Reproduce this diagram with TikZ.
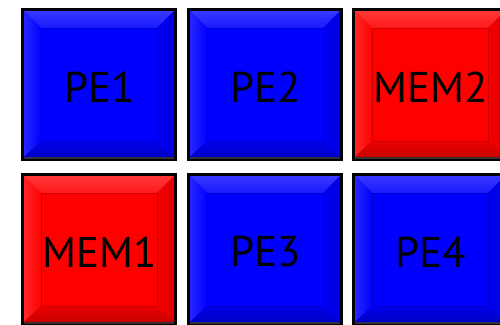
\documentclass[tikz,border=0pt]{standalone}
\usepackage{fontspec}
\setmainfont{PT Sans}
\begin{document}
\begin{tikzpicture}[x=1pt,y=-1pt]
\useasboundingbox (0,0) rectangle (500,324);
\clip (0,0) rectangle (500,324);
\fill[white] (0,0) rectangle (500,324);
\tikzset{lbl/.style={font=\fontsize{43}{43}\selectfont, text=black, inner sep=0pt}}
\newcommand\bevbox[5]{%
  % #1 name, #2 x, #3 y, #4 colour, #5 text
  \begin{scope}[shift={(#2,#3)}]
    \fill[black] (0,0) rectangle (156,153);
    \fill[black!80] (3,149) rectangle (153,151);
    \fill[#4] (3,3) rectangle (153,149);
    \shade[top color=#4!78!white, bottom color=#4!90!white] (3,3) -- (153,3) -- (136,20) -- (20,20) -- cycle;
    \shade[left color=#4!85!white, right color=#4] (3,3) -- (20,20) -- (20,133) -- (3,149) -- cycle;
    \shade[left color=#4!95!black, right color=#4!88!black] (153,3) -- (136,20) -- (136,133) -- (153,149) -- cycle;
    \shade[top color=#4!92!black, bottom color=#4!78!black] (3,149) -- (20,133) -- (136,133) -- (153,149) -- cycle;
    \filldraw[fill=#4, draw=#4!80!black, line width=0.8] (20,20) rectangle (136,133);
    \node[lbl] (#1) at (79,79) {#5};
  \end{scope}}
\bevbox{pe1}{21}{8}{blue}{PE1}
\bevbox{pe2}{187}{8}{blue}{PE2}
\bevbox{mem2}{352}{8}{red}{MEM2}
\bevbox{mem1}{21}{173}{red}{MEM1}
\bevbox{pe3}{187}{173}{blue}{PE3}
\bevbox{pe4}{352}{173}{blue}{PE4}
\end{tikzpicture}
\end{document}
